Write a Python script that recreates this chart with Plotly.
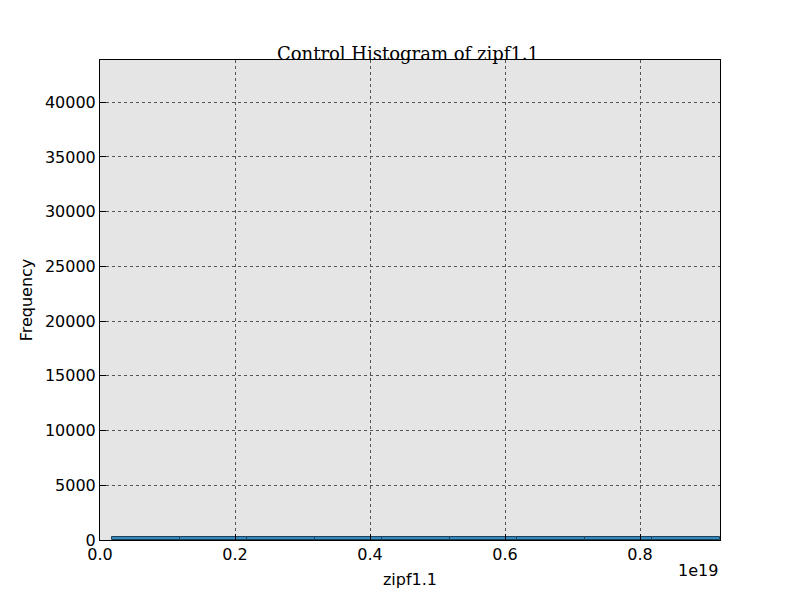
import numpy as np
import plotly.graph_objects as go

# histogram bins (x in units of 1e19) and counts
bin_left = [0.0184, 0.1184, 0.2184, 0.3184, 0.4184, 0.5184, 0.6184, 0.7184, 0.8184]
bin_width = 0.1
counts = [250, 250, 250, 250, 250, 250, 250, 250, 250]
x_ticks = [0.0, 0.2, 0.4, 0.6, 0.8]
y_ticks = [0, 5000, 10000, 15000, 20000, 25000, 30000, 35000, 40000]

centers = [b + bin_width / 2 for b in bin_left]

fig = go.Figure()
fig.add_trace(go.Bar(
    x=centers, y=counts, width=[bin_width] * len(centers),
    marker=dict(color='#348abd', line=dict(color='#1f3f5a', width=1)),
))

axis_common = dict(
    showline=True, linecolor='black', linewidth=1, mirror=True,
    showgrid=True, gridcolor='#555555', griddash='dot', gridwidth=1,
    ticks='inside', tickcolor='black', ticklen=6, zeroline=False,
    tickfont=dict(family='DejaVu Sans', size=16, color='black'),
)

fig.update_layout(
    width=800, height=600,
    paper_bgcolor='white', plot_bgcolor='#e5e5e5',
    margin=dict(l=92, r=88, t=52, b=68),
    showlegend=False, bargap=0,
    title=dict(text='Control Histogram of zipf1.1', x=0.5, xanchor='center',
               y=0.935, font=dict(family='DejaVu Serif', size=18, color='black')),
    xaxis=dict(axis_common, range=[0, 0.9185], tickvals=x_ticks,
               ticktext=[f'{v:.1f}' for v in x_ticks],
               title=dict(text='zipf1.1', font=dict(family='DejaVu Sans', size=16, color='black'),
                          standoff=10)),
    yaxis=dict(axis_common, range=[0, 43860], tickvals=y_ticks,
               ticktext=[str(v) for v in y_ticks],
               title=dict(text='Frequency', font=dict(family='DejaVu Sans', size=16, color='black'),
                          standoff=8)),
    annotations=[dict(text='1e19', xref='paper', yref='paper', x=1, y=-0.04,
                      xanchor='right', yanchor='top', showarrow=False,
                      font=dict(family='DejaVu Sans', size=16, color='black'))],
)

fig.write_html("out.html")
